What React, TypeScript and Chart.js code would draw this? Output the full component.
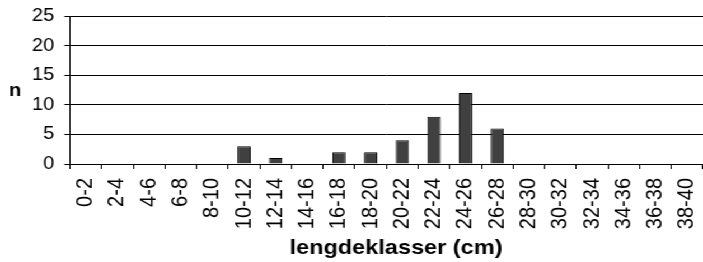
import React, { useEffect, useRef } from "react";
import { Chart, registerables } from "chart.js";

Chart.register(...registerables);

const categories = [
  "0-2", "2-4", "4-6", "6-8", "8-10", "10-12", "12-14", "14-16", "16-18", "18-20",
  "20-22", "22-24", "24-26", "26-28", "28-30", "30-32", "32-34", "34-36", "36-38", "38-40",
];
const counts = [0, 0, 0, 0, 0, 3, 1, 0, 2, 2, 4, 8, 12, 6, 0, 0, 0, 0, 0, 0];
const yTicks = [0, 5, 10, 15, 20, 25];
const xTitle = "lengdeklasser (cm)";
const yTitle = "n";

const FONT = "'Liberation Sans', Arial, sans-serif";
const CANVAS_W = 628;
const STRETCH = 703 / CANVAS_W;

const titlesPlugin = {
  id: "axisTitles",
  afterDraw(chart: any) {
    const ctx = chart.ctx;
    ctx.save();
    ctx.fillStyle = "#000";
    ctx.textAlign = "center";
    ctx.textBaseline = "alphabetic";
    ctx.font = `bold 18px ${FONT}`;
    ctx.fillText(yTitle, 15 / STRETCH, 96);
    ctx.font = `bold 21px ${FONT}`;
    ctx.fillText(xTitle, 396 / STRETCH, 254);
    ctx.restore();
  },
};

export default function App() {
  const ref = useRef<HTMLCanvasElement | null>(null);

  useEffect(() => {
    if (!ref.current) return;
    const chart = new Chart(ref.current, {
      type: "bar",
      data: {
        labels: categories,
        datasets: [
          {
            data: counts,
            backgroundColor: "#404040",
            borderColor: "#000",
            borderWidth: 1,
            barPercentage: 0.42,
            categoryPercentage: 1,
          },
        ],
      },
      options: {
        animation: false,
        responsive: true,
        maintainAspectRatio: false,
        layout: { padding: { top: 16, left: 0, right: 0, bottom: 0 } },
        plugins: {
          legend: { display: false },
          tooltip: { enabled: false },
          title: { display: false },
        },
        scales: {
          x: {
            offset: true,
            afterFit(scale: any) {
              scale.height = 98;
              scale.paddingLeft = 0;
              scale.paddingRight = 0;
            },
            grid: {
              offset: true,
              drawOnChartArea: false,
              drawTicks: true,
              tickLength: 5,
              color: "#000",
              tickColor: "#000",
            },
            border: { color: "#000", width: 1 },
            ticks: {
              autoSkip: false,
              minRotation: 90,
              maxRotation: 90,
              padding: 9,
              color: "#000",
              font: { family: FONT, size: 20 },
            },
            title: { display: false, text: xTitle },
          },
          y: {
            min: 0,
            max: 25,
            afterFit(scale: any) {
              scale.width = 70 / STRETCH;
              scale.paddingTop = 0;
              scale.paddingBottom = 0;
            },
            afterBuildTicks(scale: any) {
              scale.ticks = yTicks.map((v) => ({ value: v }));
            },
            grid: {
              color: "#000",
              tickColor: "#000",
              tickLength: 5,
              lineWidth: 1,
            },
            border: { color: "#000", width: 1 },
            ticks: {
              autoSkip: false,
              padding: 9,
              color: "#000",
              font: { family: FONT, size: 18 },
            },
          },
        },
      },
      plugins: [titlesPlugin],
    } as any);
    return () => chart.destroy();
  }, []);

  return (
    <div
      style={{
        position: "fixed",
        left: 0,
        top: 0,
        width: CANVAS_W,
        height: 262,
        transform: `scaleX(${STRETCH})`,
        transformOrigin: "0 0",
        background: "#fff",
      }}
    >
      <canvas ref={ref} />
    </div>
  );
}
